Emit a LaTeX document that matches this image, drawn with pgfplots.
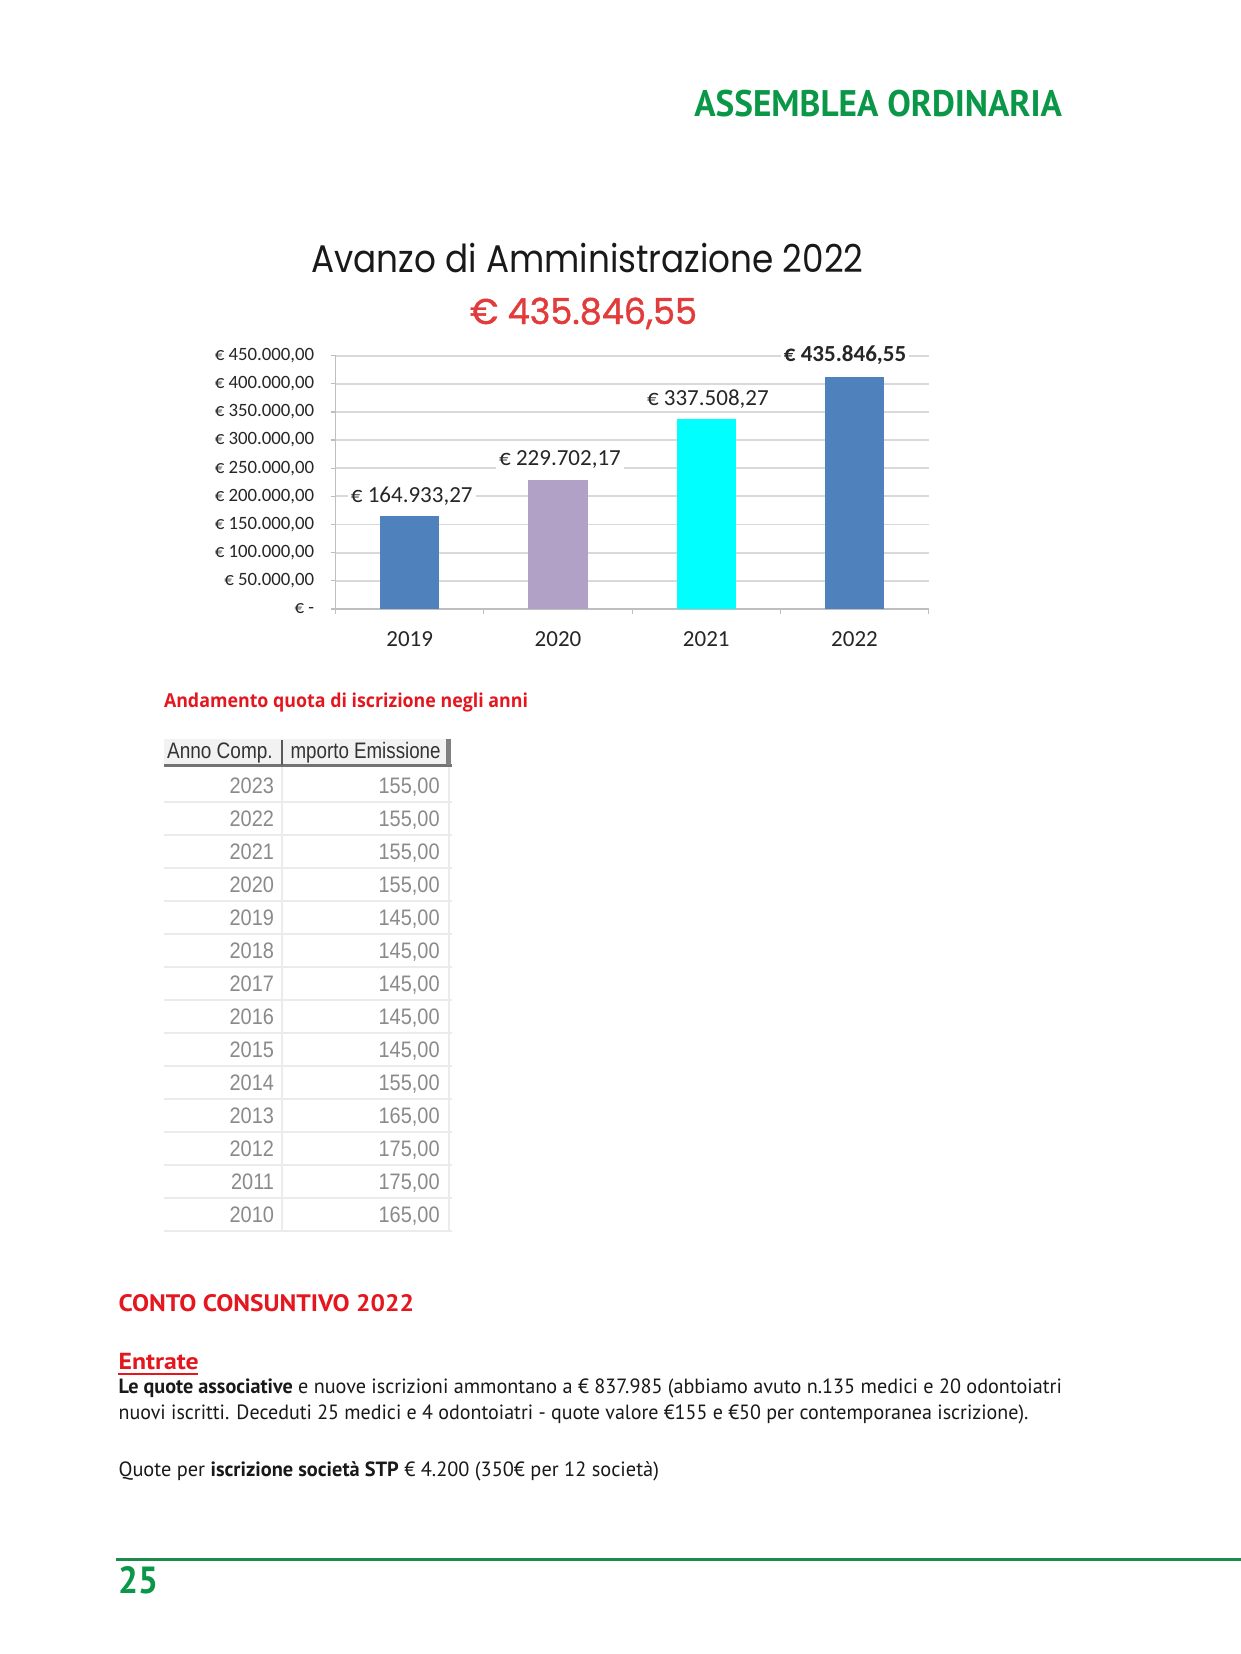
\documentclass[border=0pt]{standalone}
\usepackage{fontspec}
\usepackage{graphicx}
\usepackage{pgfplots}
\pgfplotsset{compat=1.18}
\setmainfont{PT Sans}
\newfontfamily\poppins{Poppins}
\newfontfamily\poppinsb[FakeBold=1.2]{Poppins}
\newfontfamily\carlito{Carlito}
\newfontfamily\opensans{Open Sans}
\newfontfamily\tabfont[FakeStretch=0.89]{Liberation Sans}
\definecolor{hgreen}{HTML}{0A9748}
\definecolor{lgreen}{HTML}{1B8A4A}
\definecolor{tred}{HTML}{E23B3B}
\definecolor{bred}{HTML}{E4161E}
\definecolor{barblue}{HTML}{4F81BD}
\definecolor{barlav}{HTML}{B2A1C7}
\definecolor{barcyan}{HTML}{00FFFF}
\definecolor{gridc}{HTML}{D9D9D9}
\definecolor{axc}{HTML}{BFBFBF}
\definecolor{txt}{HTML}{262626}
\definecolor{tabgray}{HTML}{8A8A8A}
\newsavebox\fitbox
\newcommand\fitw[2]{\sbox\fitbox{#2}\scalebox{\fpeval{(#1)/(\the\wd\fitbox)}}[1]{\usebox\fitbox}}
\begin{document}
\begin{tikzpicture}
\begin{scope}[x=0.5pt,y=-0.5pt]
\fill[white] (0,0) rectangle (1241,1654);
\useasboundingbox (0,0) rectangle (1241,1654);
% header
\node[anchor=base west, inner sep=0, text=hgreen] at (694,116) {\resizebox{183.8pt}{13.2pt}{\bfseries ASSEMBLEA ORDINARIA}};
% chart titles
\node[anchor=base west, inner sep=0, text=black!90] at (311,272) {\resizebox{276pt}{14.65pt}{\poppins Avanzo di Amministrazione 2022}};
\node[anchor=base west, inner sep=0, text=tred] at (469.6,324) {\resizebox{113.5pt}{13.2pt}{\poppinsb € 435.846,55}};
% table caption
\node[anchor=base west, inner sep=0, text=bred] at (163.6,707) {\fitw{182pt}{\opensans\bfseries\fontsize{9.6}{11}\selectfont Andamento quota di iscrizione negli anni}};
% table
\fill[black!5] (163.6,738.7) rectangle (448.5,765);
\draw[black!8, line width=1pt] (281.8,765) -- (281.8,1231);
\draw[black!8, line width=1pt] (448.5,765) -- (448.5,1231);
\foreach \yr/\v [count=\i from 0] in {2023/155,2022/155,2021/155,2020/155,2019/145,2018/145,2017/145,2016/145,2015/145,2014/155,2013/165,2012/175,2011/175,2010/165} {
  \node[anchor=base east, inner sep=0, text=tabgray] at (274.4,793+33.03*\i) {\tabfont\fontsize{11.2}{13}\selectfont \yr};
  \node[anchor=base east, inner sep=0, text=tabgray] at (440,793+33.03*\i) {\tabfont\fontsize{11.2}{13}\selectfont \v,00};
  \draw[black!8, line width=1pt] (163.6,801.6+33.03*\i) -- (452,801.6+33.03*\i);
}
\draw[black!55, line width=1.5pt] (163.6,765) -- (452,765);
\draw[black!65, line width=1.1pt] (281.8,740) -- (281.8,765);
\draw[black!50, line width=2.2pt] (448.5,738.7) -- (448.5,765);
\node[anchor=base west, inner sep=0, text=black!80] at (166.7,758.5) {\fitw{52.8pt}{\tabfont\fontsize{11.2}{12}\selectfont Anno Comp.}};
\node[anchor=base west, inner sep=0, text=black!80] at (290.2,758.5) {\fitw{75pt}{\tabfont\fontsize{11.2}{12}\selectfont mporto Emissione}};
% body text
\node[anchor=base west, inner sep=0, text=bred] at (118.2,1311) {\resizebox{147.7pt}{8.5pt}{\bfseries CONTO CONSUNTIVO 2022}};
\node[anchor=base west, inner sep=0, text=bred] at (118.2,1369) {\fitw{40.1pt}{\bfseries\fontsize{11.6}{13}\selectfont Entrate}};
\draw[bred, line width=1pt] (118.2,1374) -- (198.4,1374);
\node[anchor=base west, inner sep=0, text=black!90] at (118.2,1393) {\fitw{471.7pt}{\fontsize{10.3}{12}\selectfont {\bfseries Le quote associative} e nuove iscrizioni ammontano a € 837.985 (abbiamo avuto n.135 medici e 20 odontoiatri}};
\node[anchor=base west, inner sep=0, text=black!90] at (118.2,1419) {\fitw{454.9pt}{\fontsize{10.3}{12}\selectfont nuovi iscritti. Deceduti 25 medici e 4 odontoiatri - quote valore €155 e €50 per contemporanea iscrizione).}};
\node[anchor=base west, inner sep=0, text=black!90] at (118.2,1476) {\fitw{270.2pt}{\fontsize{10.3}{12}\selectfont Quote per {\bfseries iscrizione società STP} € 4.200 (350€ per 12 società)}};
% footer
\draw[lgreen, line width=1.5pt] (116,1559) -- (1241,1559);
\node[anchor=base west, inner sep=0, text=hgreen] at (118,1593) {\resizebox{20pt}{13.5pt}{\bfseries 25}};
\end{scope}
\begin{axis}[
  at={(167.8pt,-304.45pt)}, anchor=south west,
  width=296.55pt, height=126.65pt, scale only axis,
  xmin=-0.5, xmax=3.5, ymin=0, ymax=450000,
  scaled y ticks=false,
  axis x line*=bottom, axis y line*=left,
  axis line style={draw=axc, line width=0.6pt},
  tick align=outside, major tick length=2.5pt,
  tick style={draw=axc, line width=0.6pt},
  ytick={0,50000,100000,150000,200000,250000,300000,350000,400000,450000},
  yticklabels={{€ -\hspace{3pt}},{€ 50.000,00},{€ 100.000,00},{€ 150.000,00},{€ 200.000,00},{€ 250.000,00},{€ 300.000,00},{€ 350.000,00},{€ 400.000,00},{€ 450.000,00}},
  yticklabel style={font=\carlito\fontsize{9.4}{10}\selectfont, text=txt, anchor=east, inner sep=0pt, xshift=-8pt},
  ymajorgrids, grid style={draw=gridc, line width=0.9pt},
  xtick={-0.5,0.5,1.5,2.5,3.5}, xticklabels={},
  extra x ticks={0,1,2,3}, extra x tick labels={2019,2020,2021,2022},
  extra x tick style={major tick length=0pt, grid=none,
    xticklabel style={font=\carlito\fontsize{11.5}{13}\selectfont, text=txt, anchor=base, yshift=-18.6pt}},
  ybar, bar width=0.4, bar shift=0pt,
  point meta=explicit symbolic,
  nodes near coords,
  every node near coord/.append style={font=\carlito\fontsize{11.5}{13}\selectfont, text=txt, fill=white, inner sep=1.5pt, anchor=center, yshift=10pt},
  clip=false,
]
\addplot[fill=barblue, draw=none, every node near coord/.append style={xshift=1pt}] coordinates {(0,164933.27) [€ 164.933,27]};
\addplot[fill=barlav, draw=none, every node near coord/.append style={xshift=1pt}] coordinates {(1,229702.17) [€ 229.702,17]};
\addplot[fill=barcyan, draw=none, every node near coord/.append style={xshift=0.8pt}] coordinates {(2,337508.27) [€ 337.508,27]};
\addplot[fill=barblue, draw=none, every node near coord/.append style={xshift=-4.75pt, yshift=1pt, font=\carlito\bfseries\fontsize{11.5}{13}\selectfont}] coordinates {(3,412500) [€ 435.846,55]};
\end{axis}
\end{tikzpicture}
\end{document}
